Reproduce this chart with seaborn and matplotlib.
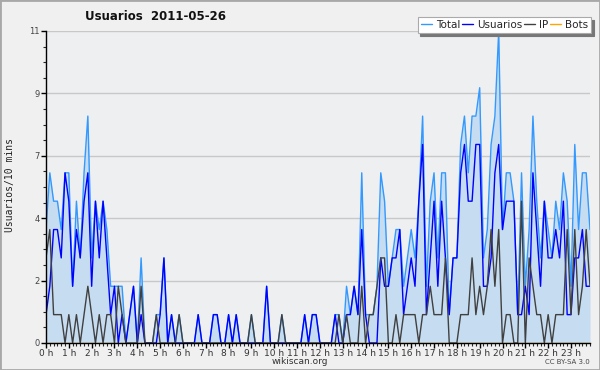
import matplotlib
matplotlib.use("Agg")
import matplotlib.pyplot as plt
from matplotlib.patches import Rectangle
from matplotlib.ticker import FixedLocator, MultipleLocator
import numpy as np
import pandas as pd
import seaborn as sns

# one value per 10 minutes, 144 slots for the day
total = [4, 6, 5, 5, 4, 6, 6, 2, 5, 3, 6, 8, 3, 5, 4, 5, 4, 2, 2, 2, 2, 0, 1, 2,
         0, 3, 0, 0, 0, 1, 1, 3, 0, 1, 0, 1, 0, 0, 0, 0, 1, 0, 0, 0, 1, 1, 0, 0,
         1, 0, 1, 0, 0, 0, 1, 0, 0, 0, 2, 0, 0, 0, 1, 0, 0, 0, 0, 0, 1, 0, 1, 1,
         0, 0, 0, 0, 1, 1, 0, 2, 1, 2, 1, 6, 1, 1, 1, 2, 6, 5, 2, 3, 4, 4, 2, 3,
         4, 3, 5, 8, 2, 5, 6, 3, 6, 6, 1, 3, 3, 7, 8, 6, 8, 8, 9, 3, 4, 7, 8, 11,
         4, 6, 6, 5, 1, 6, 2, 4, 8, 5, 3, 5, 4, 3, 5, 4, 6, 5, 2, 7, 4, 6, 6, 4]
usuarios = [1, 2, 4, 4, 3, 6, 5, 2, 4, 3, 5, 6, 2, 5, 3, 5, 3, 1, 2, 0, 1, 0, 1, 2,
            0, 1, 0, 0, 0, 0, 1, 3, 0, 1, 0, 0, 0, 0, 0, 0, 1, 0, 0, 0, 1, 1, 0, 0,
            1, 0, 1, 0, 0, 0, 0, 0, 0, 0, 2, 0, 0, 0, 0, 0, 0, 0, 0, 0, 1, 0, 1, 1,
            0, 0, 0, 0, 1, 0, 0, 1, 1, 2, 1, 4, 1, 0, 0, 0, 3, 2, 2, 3, 3, 4, 1, 2,
            3, 2, 5, 7, 1, 3, 5, 2, 5, 3, 1, 3, 3, 6, 7, 5, 5, 7, 7, 2, 2, 3, 6, 7,
            4, 5, 5, 5, 1, 1, 2, 1, 6, 4, 2, 5, 3, 3, 4, 3, 5, 1, 1, 3, 3, 4, 2, 2]
ip = [3, 4, 1, 1, 1, 0, 1, 0, 1, 0, 1, 2, 1, 0, 1, 0, 1, 1, 0, 2, 1, 0, 0, 0,
      0, 2, 0, 0, 0, 1, 0, 0, 0, 0, 0, 1, 0, 0, 0, 0, 0, 0, 0, 0, 0, 0, 0, 0,
      0, 0, 0, 0, 0, 0, 1, 0, 0, 0, 0, 0, 0, 0, 1, 0, 0, 0, 0, 0, 0, 0, 0, 0,
      0, 0, 0, 0, 0, 1, 0, 1, 0, 0, 0, 2, 0, 1, 1, 2, 3, 3, 0, 0, 1, 0, 1, 1,
      1, 1, 0, 1, 1, 2, 1, 1, 1, 3, 0, 0, 0, 1, 1, 1, 3, 1, 2, 1, 2, 4, 2, 4,
      0, 1, 1, 0, 0, 5, 0, 3, 2, 1, 1, 0, 1, 0, 1, 1, 1, 4, 1, 4, 1, 2, 4, 2]
bots = [0] * 144

hour_labels = [f"{h} h" for h in range(24)]
y_ticks = [0, 2.2, 4.4, 6.6, 8.8, 11]
y_labels = ["0", "2", "4", "7", "9", "11"]

df = pd.DataFrame({"slot": np.arange(len(total)), "Total": total,
                   "Usuarios": usuarios, "IP": ip, "Bots": bots})

sns.set_style("white")
plt.rcParams["font.family"] = ["DejaVu Sans"]

fig = plt.figure(figsize=(6, 3.7), dpi=100, facecolor="#f0f0f0")
ax = fig.add_axes([46 / 600, 1 - 343 / 370, 544 / 600, 312 / 370])
ax.set_facecolor("#eeeff1")

# area under the total
ax.fill_between(df["slot"], df["Total"], color="#c6dcf0", lw=0, zorder=1)

colors = {"Total": "#3399ff", "Usuarios": "#0000ff", "IP": "#404040", "Bots": "#ffa500"}
for name in ["Bots", "Total", "Usuarios", "IP"]:
    sns.lineplot(data=df, x="slot", y=name, color=colors[name], lw=1.0,
                 ax=ax, label=name, zorder=2)

ax.set_xlim(0, 143)
ax.set_ylim(0, 11)

ax.xaxis.set_major_locator(FixedLocator(np.arange(0, 144, 6)))
ax.set_xticklabels(hour_labels)
ax.xaxis.set_minor_locator(MultipleLocator(1))
ax.yaxis.set_major_locator(FixedLocator(y_ticks))
ax.set_yticklabels(y_labels)
ax.yaxis.set_minor_locator(MultipleLocator(0.55))

ax.tick_params(axis="x", which="major", direction="out", length=3.5, width=1,
               labelsize=6.5, pad=0.5, colors="black", labelcolor="#333333")
ax.tick_params(axis="x", which="minor", direction="out", length=2.5, width=0.8)
ax.tick_params(axis="y", which="major", direction="out", length=3.5, width=1,
               labelsize=6, pad=1, colors="black", labelcolor="#444444")
ax.tick_params(axis="y", which="minor", direction="out", length=2.5, width=0.8)
ax.tick_params(which="both", bottom=True, left=True)

ax.grid(axis="y", color="#c8c8c8", lw=1)
ax.set_axisbelow(True)
for side in ["top", "right"]:
    ax.spines[side].set_visible(False)
for side in ["left", "bottom"]:
    ax.spines[side].set_color("black")
    ax.spines[side].set_linewidth(1)
    ax.spines[side].set_zorder(3)

ax.set_xlabel("")
ax.set_ylabel("")
ax.get_legend().remove()

fig.text(0.0175, 0.5, "Usuarios/10 mins", rotation=90, ha="center", va="center",
         fontsize=7, family="DejaVu Sans Mono", color="#222222")
fig.text(85 / 600, 1 - 16 / 370, "Usuarios  2011-05-26", ha="left", va="center",
         fontsize=8.5, fontweight="bold", color="#111111")
fig.text(0.5, 1 - 362 / 370, "wikiscan.org", ha="center", va="center",
         fontsize=6.5, color="#333333")
fig.text(590 / 600, 1 - 362 / 370, "CC BY-SA 3.0", ha="right", va="center",
         fontsize=5, color="#444444")

handles, labels = ax.get_legend_handles_labels()
order = [labels.index(n) for n in ["Total", "Usuarios", "IP", "Bots"]]
leg = fig.legend([handles[i] for i in order], [labels[i] for i in order],
                 loc="upper right", bbox_to_anchor=(591 / 600, 1 - 17 / 370),
                 ncol=4, fontsize=7.5, frameon=True, fancybox=False,
                 shadow={"color": "#777777", "alpha": 1}, borderaxespad=0,
                 handlelength=1.1, handletextpad=0.35, columnspacing=0.15,
                 borderpad=0.3)
leg.get_frame().set_facecolor("white")
leg.get_frame().set_edgecolor("#aaaaaa")
leg.get_frame().set_linewidth(0.8)

fig.patches.append(Rectangle((0, 0), 1, 1, transform=fig.transFigure, fill=False,
                             edgecolor="#a8a8a8", lw=2))

fig.savefig("out.png", dpi=100, facecolor=fig.get_facecolor())
